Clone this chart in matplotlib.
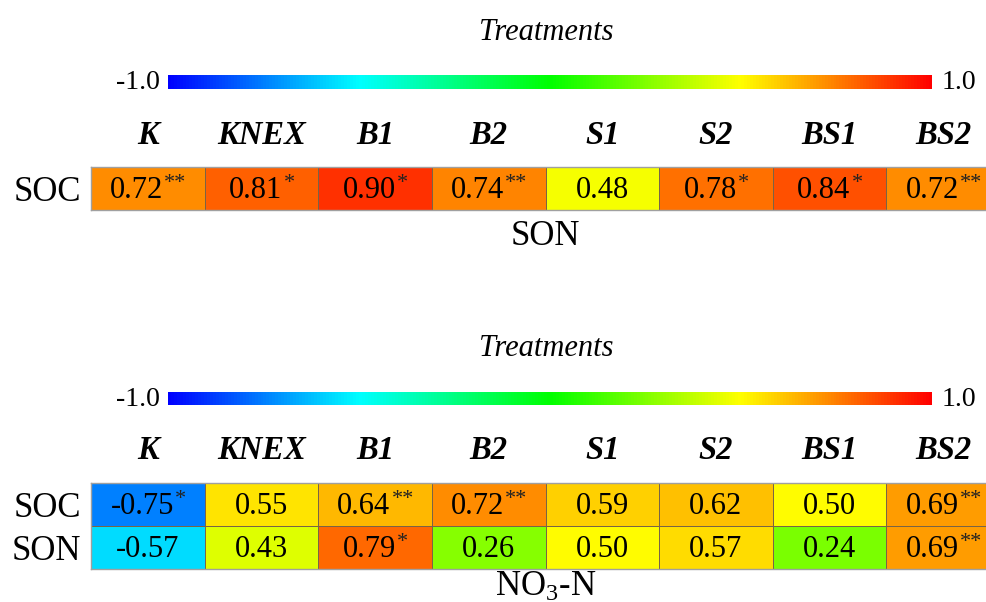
import matplotlib
matplotlib.use('Agg')
import matplotlib.pyplot as plt
import matplotlib.transforms as mtransforms
import numpy as np
from matplotlib.colors import LinearSegmentedColormap, Normalize
from matplotlib.cm import ScalarMappable

plt.rcParams['font.family'] = ['Liberation Serif', 'DejaVu Serif']
plt.rcParams['mathtext.fontset'] = 'custom'
plt.rcParams['mathtext.rm'] = 'Liberation Serif'
plt.rcParams['mathtext.it'] = 'Liberation Serif:italic'
plt.rcParams['mathtext.bf'] = 'Liberation Serif:bold'

# Data
treatments = ['K', 'KNEX', 'B1', 'B2', 'S1', 'S2', 'BS1', 'BS2']
son_rows = ['SOC']
son_soc_r = [0.72, 0.81, 0.90, 0.74, 0.48, 0.78, 0.84, 0.72]
son_soc_sig = ['**', '*', '*', '**', '', '*', '*', '**']
no3_rows = ['SOC', 'SON']
no3_soc_r = [-0.75, 0.55, 0.64, 0.72, 0.59, 0.62, 0.50, 0.69]
no3_soc_sig = ['*', '', '**', '**', '', '', '', '**']
no3_son_r = [-0.57, 0.43, 0.79, 0.26, 0.50, 0.57, 0.24, 0.69]
no3_son_sig = ['', '', '*', '', '', '', '', '**']

cmap = LinearSegmentedColormap.from_list(
    'bcgyr', ['#0000ff', '#00ffff', '#00ff00', '#ffff00', '#ff0000'])
norm = Normalize(-1, 1)

W, H = 987, 602
fig = plt.figure(figsize=(W / 100, H / 100), dpi=100)
renderer = fig.canvas.get_renderer()


def box(x0, y0, x1, y1):
    # pixel box -> figure fraction
    return [x0 / W, 1 - y1 / H, (x1 - x0) / W, (y1 - y0) / H]


def cell_text(ax, x, y, num, stars):
    t = ax.text(x, y, num, ha='center', va='center', fontsize=22)
    ws = 0
    if stars:
        st = ax.text(x, y, stars, ha='left', va='center', fontsize=16,
                     color='#222222')
        wn = t.get_window_extent(renderer).width
        ws = st.get_window_extent(renderer).width
        st.set_transform(mtransforms.offset_copy(
            ax.transData, fig=fig, x=wn / 2 - ws / 2 + 1, y=5, units='dots'))
    # centre number + stars together, nudge down a little
    t.set_transform(mtransforms.offset_copy(ax.transData, fig=fig,
                                            x=-ws / 2, y=-2, units='dots'))


def panel(title_y, cb_box, hm_box, rows, vals, sigs, xlabel, lpad):
    fig.text(546 / W, 1 - title_y / H, 'Treatments', ha='center', va='center',
             fontsize=22, style='italic')

    cax = fig.add_axes(box(*cb_box))
    cb = fig.colorbar(ScalarMappable(norm=norm, cmap=cmap), cax=cax,
                      orientation='horizontal')
    cb.set_ticks([])
    cb.outline.set_visible(False)
    cax.text(-0.01, 0.45, '-1.0', transform=cax.transAxes, ha='right',
             va='center', fontsize=20)
    cax.text(1.012, 0.45, '1.0', transform=cax.transAxes, ha='left',
             va='center', fontsize=20)

    ax = fig.add_axes(box(*hm_box))
    data = np.array(vals)
    ax.pcolormesh(np.arange(len(treatments) + 1), np.arange(len(rows) + 1),
                  data, cmap=cmap, norm=norm, edgecolors='#7a6445',
                  linewidth=0.7)
    ax.set_xlim(0, len(treatments))
    ax.set_ylim(len(rows), 0)
    for i in range(len(rows)):
        for j in range(len(treatments)):
            cell_text(ax, j + 0.5, i + 0.5, '%.2f' % data[i, j], sigs[i][j])
    ax.xaxis.tick_top()
    ax.set_xticks(np.arange(len(treatments)) + 0.5)
    ax.set_xticklabels(treatments, fontsize=23.5, fontweight='bold',
                       style='italic')
    ax.tick_params(axis='x', length=0, pad=12)
    ax.set_yticks(np.arange(len(rows)) + 0.5)
    ax.set_yticklabels(rows, fontsize=25)
    ax.tick_params(axis='y', length=0, pad=7)
    for sp in ax.spines.values():
        sp.set_color('#a0a0a0')
        sp.set_linewidth(1.0)
    ax.xaxis.set_label_position('bottom')
    ax.set_xlabel(xlabel, fontsize=25, labelpad=lpad)


panel(32, (168, 75, 932, 89), (91, 167.3, 1000, 210),
      son_rows, [son_soc_r], [son_soc_sig], 'SON', 7)
panel(348, (168, 392, 932, 405), (91, 483, 1000, 569),
      no3_rows, [no3_soc_r, no3_son_r], [no3_soc_sig, no3_son_sig],
      'NO$_3$-N', 1)

fig.savefig('out.png', dpi=100)
